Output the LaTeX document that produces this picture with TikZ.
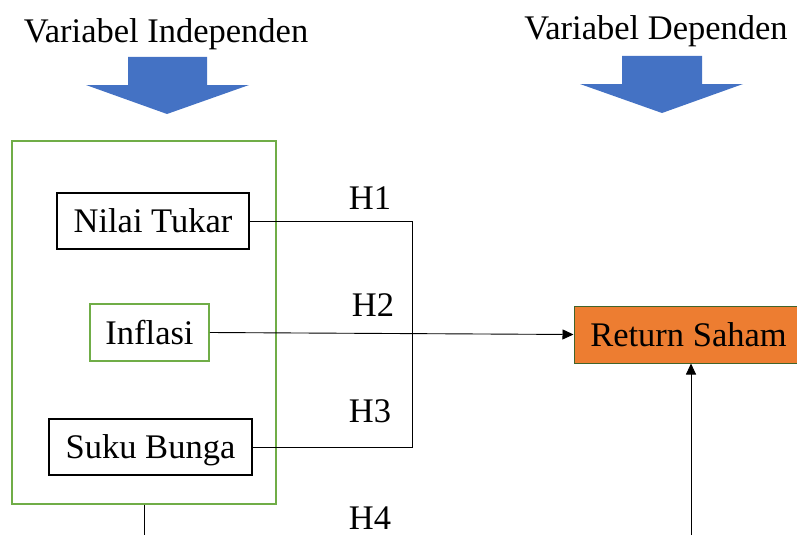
\documentclass[tikz,border=0pt]{standalone}
\usepackage{fontspec}
\setmainfont{Liberation Serif}
\usetikzlibrary{arrows.meta}
\definecolor{boxgreen}{HTML}{70AD47}
\definecolor{arrowblue}{HTML}{4472C4}
\definecolor{retorange}{HTML}{ED7D31}
\definecolor{retborder}{HTML}{41642A}
\tikzset{
  lbl/.style={font=\fontsize{34.5}{40}\selectfont, inner sep=0pt},
  varbox/.style={lbl, draw=black, line width=1.5pt, text height=23pt, text depth=0pt},
  greenbox/.style={varbox, draw=boxgreen},
  conn/.style={draw=black, line width=0.9pt},
  blockarrow/.style={fill=arrowblue, draw=none}
}
\begin{document}
\begin{tikzpicture}[x=1pt,y=-1pt]
\useasboundingbox (0,0) rectangle (797,535);
% headings
\node[lbl, anchor=base] (indep) at (166,42) {Variabel Independen};
\node[lbl, anchor=base] (dep) at (656,40) {Variabel Dependen};
% block arrows
\fill[blockarrow] (128,57) -- (207,57) -- (207,85) -- (249,85) -- (167,114) -- (86,85) -- (128,85) -- cycle;
\fill[blockarrow] (622,56) -- (702,56) -- (702,84) -- (743,84) -- (662,113) -- (580,84) -- (622,84) -- cycle;
% outer group box
\node[draw=boxgreen, line width=1.5pt, minimum width=264pt, minimum height=363pt, inner sep=0pt] (outer) at (144,322.5) {};
% variable boxes
\node[varbox, minimum width=192pt, minimum height=56pt] (nilai) at (153,221) {Nilai Tukar};
\node[greenbox, minimum width=119pt, minimum height=57pt] (inflasi) at (149.5,332.5) {Inflasi};
\node[varbox, minimum width=203pt, minimum height=56pt] (suku) at (150.5,447) {Suku Bunga};
\node[lbl, fill=retorange, draw=retborder, line width=1pt, minimum width=229pt, minimum height=57pt, text height=23pt, text depth=0pt] (return) at (688.5,334.5) {Return Saham};
% hypothesis labels
\node[lbl, anchor=base] (h1) at (370,209) {H1};
\node[lbl, anchor=base] (h2) at (373,316) {H2};
\node[lbl, anchor=base] (h3) at (370,422) {H3};
\node[lbl, anchor=base] (h4) at (370,529) {H4};
% connectors
\coordinate (j) at (412,334);
\draw[conn] (nilai.east) -| (j);
\draw[conn] (suku.east) -| (j);
\draw[conn, -{Triangle[length=11pt,width=10pt]}] (inflasi.east) -- (return.west);
\coordinate (b1) at (144,535);
\draw[conn] (outer.south) -- (b1);
\coordinate (b2) at (691,535);
\draw[conn, -{Triangle[length=11pt,width=10pt]}] (b2) -- (b2 |- return.south);
\end{tikzpicture}
\end{document}
